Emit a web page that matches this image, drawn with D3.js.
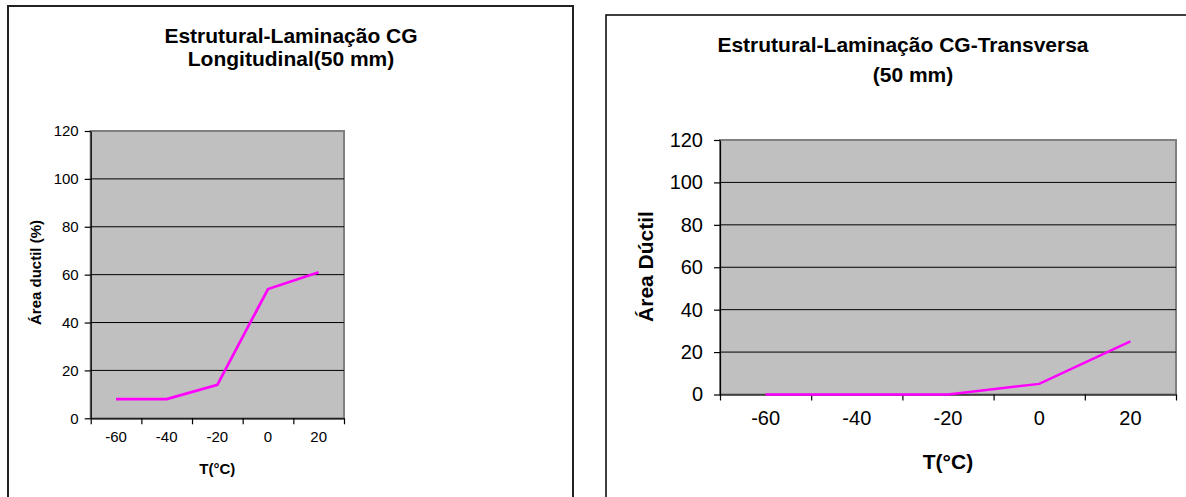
<!DOCTYPE html>
<html>
<head>
<meta charset="utf-8">
<script src="https://cdn.jsdelivr.net/npm/d3@7"></script>
<style>
  html, body { margin: 0; padding: 0; background: #fff; }
  svg { display: block; font-family: "Liberation Sans", Arial, sans-serif; }
</style>
</head>
<body>
<svg id="chart" width="1186" height="497"></svg>
<script>
// data
const temps = ['-60', '-40', '-20', '0', '20'];
const yTicks = [0, 20, 40, 60, 80, 100, 120];
const longitudinal = [8, 8, 14, 54, 61];
const transversa = [0, 0, 0, 5, 25];

const titleLong = ['Estrutural-Laminação CG', 'Longitudinal(50 mm)'];
const titleTrans = ['Estrutural-Laminação CG-Transversa', '(50 mm)'];

const svg = d3.select('#chart');

function drawChart(o) {
  const g = svg.append('g');

  // chart box
  g.append('rect')
    .attr('x', o.box[0]).attr('y', o.box[1])
    .attr('width', o.box[2]).attr('height', o.box[3])
    .attr('fill', '#fff')
    .attr('stroke', o.boxColor)
    .attr('stroke-width', o.boxWidth);

  const x = d3.scaleBand().domain(temps).range([o.left, o.right]);
  const xb = d3.scaleLinear().domain([0, temps.length]).range([o.left, o.right]);
  const y = d3.scaleLinear().domain([0, 120]).range([o.bottom, o.top]);

  // plot area
  g.append('rect')
    .attr('x', o.left).attr('y', o.top)
    .attr('width', o.right - o.left).attr('height', o.bottom - o.top)
    .attr('fill', '#c0c0c0')
    .attr('stroke', '#808080')
    .attr('stroke-width', 2);

  // gridlines
  g.append('g')
    .selectAll('line')
    .data(yTicks.filter(d => d > 0 && d < 120))
    .join('line')
    .attr('x1', o.left).attr('x2', o.right)
    .attr('y1', d => y(d)).attr('y2', d => y(d))
    .attr('stroke', '#000')
    .attr('stroke-width', 1);

  // y axis
  const ya = g.append('g')
    .attr('transform', `translate(${o.left},0)`)
    .call(d3.axisLeft(y).tickValues(yTicks).tickSize(o.tick).tickPadding(o.yPad).tickSizeOuter(0));
  ya.selectAll('text').attr('font-size', o.tickFont).attr('fill', '#000')
    .attr('font-family', '"Liberation Sans", Arial, sans-serif');
  ya.selectAll('line, path').attr('stroke', '#000').attr('stroke-width', 1.2);

  // x axis: ticks on band edges, labels on band centres
  const xt = g.append('g')
    .attr('transform', `translate(0,${o.bottom})`)
    .call(d3.axisBottom(xb).ticks(temps.length).tickFormat('').tickSize(o.tick).tickSizeOuter(0));
  xt.selectAll('line, path').attr('stroke', '#000').attr('stroke-width', 1.2);

  const xl = g.append('g')
    .attr('transform', `translate(0,${o.bottom})`)
    .call(d3.axisBottom(x).tickSize(0).tickPadding(o.xPad));
  xl.select('.domain').remove();
  xl.selectAll('text').attr('font-size', o.tickFont).attr('fill', '#000')
    .attr('font-family', '"Liberation Sans", Arial, sans-serif');

  // series
  const line = d3.line()
    .x((d, i) => x(temps[i]) + x.bandwidth() / 2)
    .y(d => y(d));

  g.append('path')
    .datum(o.values)
    .attr('d', line)
    .attr('fill', 'none')
    .attr('stroke', '#ff00ff')
    .attr('stroke-width', o.lineWidth);

  // titles
  o.title.forEach((t, i) => {
    g.append('text')
      .attr('x', o.titleX[i]).attr('y', o.titleY[i])
      .attr('text-anchor', 'middle')
      .attr('font-size', o.titleFont)
      .attr('font-weight', 'bold')
      .text(t);
  });

  g.append('text')
    .attr('x', (o.left + o.right) / 2).attr('y', o.xTitleY)
    .attr('text-anchor', 'middle')
    .attr('font-size', o.axisFont)
    .attr('font-weight', 'bold')
    .text('T(°C)');

  g.append('text')
    .attr('transform', `translate(${o.yTitleX},${o.yTitleY}) rotate(-90)`)
    .attr('text-anchor', 'middle')
    .attr('font-size', o.axisFont)
    .attr('font-weight', 'bold')
    .text(o.yTitle);
}

drawChart({
  box: [8, 6, 565, 520], boxColor: '#222', boxWidth: 2,
  left: 90.7, right: 344, top: 131, bottom: 418.3,
  tick: 6, yPad: 6, xPad: 13,
  tickFont: 15, axisFont: 15, titleFont: 21,
  values: longitudinal, lineWidth: 2.7,
  title: titleLong, titleX: [291, 291], titleY: [42.5, 66],
  xTitleY: 474, yTitleX: 41, yTitleY: 272.5,
  yTitle: 'Área ductil (%)'
});

drawChart({
  box: [606, 15, 620, 520], boxColor: '#000', boxWidth: 1.5,
  left: 720, right: 1176, top: 140, bottom: 394.5,
  tick: 6, yPad: 11, xPad: 16,
  tickFont: 20, axisFont: 21, titleFont: 21,
  values: transversa, lineWidth: 2.5,
  title: titleTrans, titleX: [903, 913], titleY: [52, 82],
  xTitleY: 469, yTitleX: 653, yTitleY: 266.5,
  yTitle: 'Área Dúctil'
});
</script>
</body>
</html>
